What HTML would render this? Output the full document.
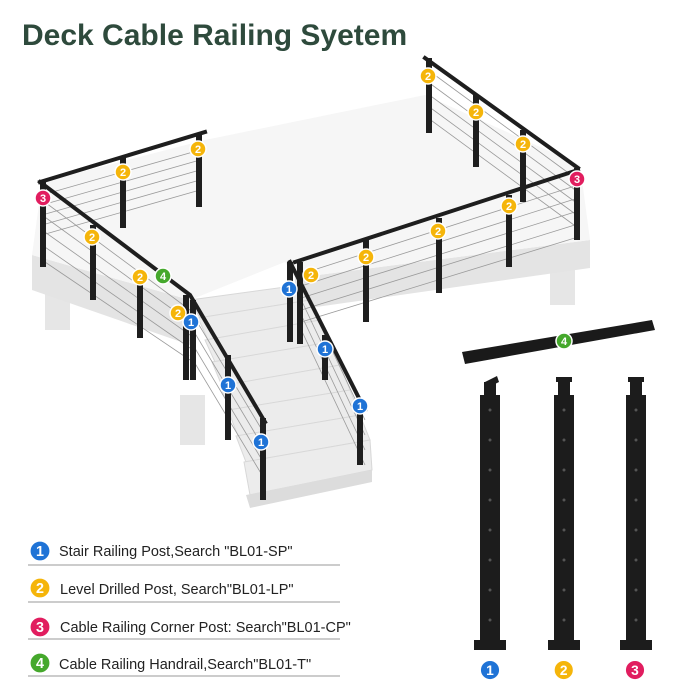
<!DOCTYPE html>
<html><head><meta charset="utf-8"><style>
html,body{margin:0;padding:0;background:#fff;width:700px;height:700px;overflow:hidden}
svg{display:block}
text{font-family:"Liberation Sans",sans-serif}
</style></head><body>
<svg width="700" height="700" viewBox="0 0 700 700" xmlns="http://www.w3.org/2000/svg">
<text x="22" y="45" font-size="30" font-weight="bold" fill="#2e4a3c">Deck Cable Railing Syetem</text>

<!-- legs -->
<rect x="45" y="285" width="25" height="45" fill="#e6e6e6"/>
<rect x="550" y="265" width="25" height="40" fill="#e6e6e6"/>
<rect x="180" y="395" width="25" height="50" fill="#e6e6e6"/>
<!-- deck side faces -->
<polygon points="32,255 190,300 190,345 32,290" fill="#e4e4e4"/>
<polygon points="295,278 590,240 590,268 295,310" fill="#e4e4e4"/>
<!-- deck top -->
<polygon points="32,255 42,182 205,140 425,95 580,165 590,240 295,278 285,262 190,300" fill="#f6f6f6"/>
<!-- stairs -->
<g fill="#ececec" stroke="#d8d8d8" stroke-width="1">
<polygon points="190,300 300,285 310,300 200,318"/>
<polygon points="198,318 310,300 320,320 208,340"/>
<polygon points="205,340 320,320 330,342 215,362"/>
<polygon points="212,362 330,342 340,365 222,386"/>
<polygon points="220,386 340,365 350,390 230,410"/>
<polygon points="228,410 350,390 360,415 238,436"/>
<polygon points="236,436 360,415 370,440 246,462"/>
<polygon points="244,462 370,440 372,470 250,495"/>
</g>
<polygon points="246,495 372,470 372,482 250,508" fill="#dcdcdc"/>

<!-- cables -->
<g stroke="#9a9a9a" stroke-width="0.8">
<line x1="42" y1="195" x2="200" y2="150"/><line x1="42" y1="205" x2="200" y2="160"/><line x1="42" y1="215" x2="200" y2="170"/><line x1="42" y1="225" x2="200" y2="180"/><line x1="42" y1="235" x2="200" y2="190"/>
<line x1="42" y1="200" x2="190" y2="310"/><line x1="42" y1="215" x2="190" y2="322"/><line x1="42" y1="230" x2="190" y2="335"/><line x1="42" y1="245" x2="190" y2="348"/><line x1="42" y1="260" x2="190" y2="360"/>
<line x1="190" y1="310" x2="265" y2="435"/><line x1="190" y1="325" x2="265" y2="450"/><line x1="190" y1="340" x2="265" y2="465"/><line x1="190" y1="355" x2="265" y2="480"/>
<line x1="428" y1="70" x2="578" y2="180"/><line x1="428" y1="82" x2="578" y2="192"/><line x1="428" y1="94" x2="578" y2="204"/><line x1="428" y1="106" x2="578" y2="216"/><line x1="428" y1="118" x2="578" y2="228"/>
<line x1="298" y1="275" x2="578" y2="185"/><line x1="298" y1="287" x2="578" y2="198"/><line x1="298" y1="299" x2="578" y2="211"/><line x1="298" y1="311" x2="578" y2="224"/><line x1="298" y1="323" x2="578" y2="237"/>
<line x1="298" y1="278" x2="365" y2="420"/><line x1="298" y1="293" x2="365" y2="435"/><line x1="298" y1="308" x2="365" y2="450"/><line x1="298" y1="323" x2="365" y2="465"/>
</g>
<!-- handrails -->
<g stroke="#1e1e1e" stroke-width="4" fill="none" stroke-linecap="square">
<polyline points="40,182 205,132"/>
<polyline points="40,182 190,295 265,422"/>
<polyline points="425,58 578,168"/>
<polyline points="295,262 578,170"/>
<polyline points="290,262 365,410"/>
</g>
<!-- posts -->
<g fill="#1e1e1e">
<rect x="40" y="182" width="6" height="85"/><rect x="90" y="225" width="6" height="75"/><rect x="137" y="270" width="6" height="68"/>
<rect x="120" y="158" width="6" height="70"/><rect x="196" y="135" width="6" height="72"/>
<rect x="183" y="295" width="6" height="85"/><rect x="190" y="300" width="6" height="80"/><rect x="225" y="355" width="6" height="85"/><rect x="260" y="418" width="6" height="82"/>
<rect x="426" y="58" width="6" height="75"/><rect x="473" y="95" width="6" height="72"/><rect x="520" y="130" width="6" height="72"/><rect x="574" y="168" width="6" height="72"/>
<rect x="297" y="262" width="6" height="82"/><rect x="363" y="240" width="6" height="82"/><rect x="436" y="218" width="6" height="75"/><rect x="506" y="195" width="6" height="72"/>
<rect x="287" y="262" width="6" height="80"/><rect x="322" y="335" width="6" height="45"/><rect x="357" y="405" width="6" height="60"/>
</g>

<!-- separate handrail -->
<polygon points="462,352 652,320 655,330 465,364" fill="#1a1a1a"/>
<!-- separate posts -->
<g fill="#1c1c1c">
<rect x="480" y="395" width="20" height="250"/><rect x="474" y="640" width="32" height="10"/><rect x="484" y="382" width="12" height="14"/><polygon points="485,382 497,376 499,382 487,388"/>
<rect x="554" y="395" width="20" height="250"/><rect x="548" y="640" width="32" height="10"/><rect x="558" y="382" width="12" height="14"/><rect x="556" y="377" width="16" height="5"/>
<rect x="626" y="395" width="20" height="250"/><rect x="620" y="640" width="32" height="10"/><rect x="630" y="382" width="12" height="14"/><rect x="628" y="377" width="16" height="5"/>
</g>
<g fill="#555">
<circle cx="490" cy="410" r="1.5"/><circle cx="490" cy="440" r="1.5"/><circle cx="490" cy="470" r="1.5"/><circle cx="490" cy="500" r="1.5"/><circle cx="490" cy="530" r="1.5"/><circle cx="490" cy="560" r="1.5"/><circle cx="490" cy="590" r="1.5"/><circle cx="490" cy="620" r="1.5"/>
<circle cx="564" cy="410" r="1.5"/><circle cx="564" cy="440" r="1.5"/><circle cx="564" cy="470" r="1.5"/><circle cx="564" cy="500" r="1.5"/><circle cx="564" cy="530" r="1.5"/><circle cx="564" cy="560" r="1.5"/><circle cx="564" cy="590" r="1.5"/><circle cx="564" cy="620" r="1.5"/>
<circle cx="636" cy="410" r="1.5"/><circle cx="636" cy="440" r="1.5"/><circle cx="636" cy="470" r="1.5"/><circle cx="636" cy="500" r="1.5"/><circle cx="636" cy="530" r="1.5"/><circle cx="636" cy="560" r="1.5"/><circle cx="636" cy="590" r="1.5"/><circle cx="636" cy="620" r="1.5"/>
</g>

<!-- badges -->
<defs>
<g id="b1"><circle r="8" fill="#1f73d6" stroke="#fff" stroke-width="1.5"/><text y="4" text-anchor="middle" font-size="11" font-weight="bold" fill="#fff">1</text></g>
<g id="b2"><circle r="8" fill="#f5b50a" stroke="#fff" stroke-width="1.5"/><text y="4" text-anchor="middle" font-size="11" font-weight="bold" fill="#fff">2</text></g>
<g id="b3"><circle r="8" fill="#e11d5f" stroke="#fff" stroke-width="1.5"/><text y="4" text-anchor="middle" font-size="11" font-weight="bold" fill="#fff">3</text></g>
<g id="b4"><circle r="8" fill="#45a82c" stroke="#fff" stroke-width="1.5"/><text y="4" text-anchor="middle" font-size="11" font-weight="bold" fill="#fff">4</text></g>
</defs>
<use href="#b2" x="198" y="149"/><use href="#b2" x="123" y="172"/><use href="#b3" x="43" y="198"/><use href="#b2" x="92" y="237"/><use href="#b2" x="140" y="277"/><use href="#b4" x="163" y="276"/><use href="#b2" x="178" y="313"/><use href="#b1" x="191" y="322"/><use href="#b1" x="228" y="385"/><use href="#b1" x="261" y="442"/>
<use href="#b2" x="428" y="76"/><use href="#b2" x="476" y="112"/><use href="#b2" x="523" y="144"/><use href="#b3" x="577" y="179"/><use href="#b2" x="509" y="206"/><use href="#b2" x="438" y="231"/><use href="#b2" x="366" y="257"/><use href="#b2" x="311" y="275"/><use href="#b1" x="289" y="289"/><use href="#b1" x="325" y="349"/><use href="#b1" x="360" y="406"/>
<use href="#b4" x="564" y="341"/>
<g transform="scale(1.25)"><use href="#b1" x="392" y="536"/><use href="#b2" x="451" y="536"/><use href="#b3" x="508" y="536"/></g>

<!-- legend -->
<g transform="translate(40,551) scale(1.3)"><use href="#b1"/></g>
<g transform="translate(40,588) scale(1.3)"><use href="#b2"/></g>
<g transform="translate(40,627) scale(1.3)"><use href="#b3"/></g>
<g transform="translate(40,663) scale(1.3)"><use href="#b4"/></g>
<g font-size="14.5" fill="#222">
<text x="59" y="556">Stair Railing Post,Search "BL01-SP"</text>
<text x="60" y="594">Level Drilled Post, Search"BL01-LP"</text>
<text x="60" y="632">Cable Railing Corner Post: Search"BL01-CP"</text>
<text x="59" y="669">Cable Railing Handrail,Search"BL01-T"</text>
</g>
<g stroke="#999" stroke-width="1">
<line x1="28" y1="565" x2="340" y2="565"/><line x1="28" y1="602" x2="340" y2="602"/><line x1="28" y1="639" x2="340" y2="639"/><line x1="28" y1="676" x2="340" y2="676"/>
</g>
</svg>
</body></html>
